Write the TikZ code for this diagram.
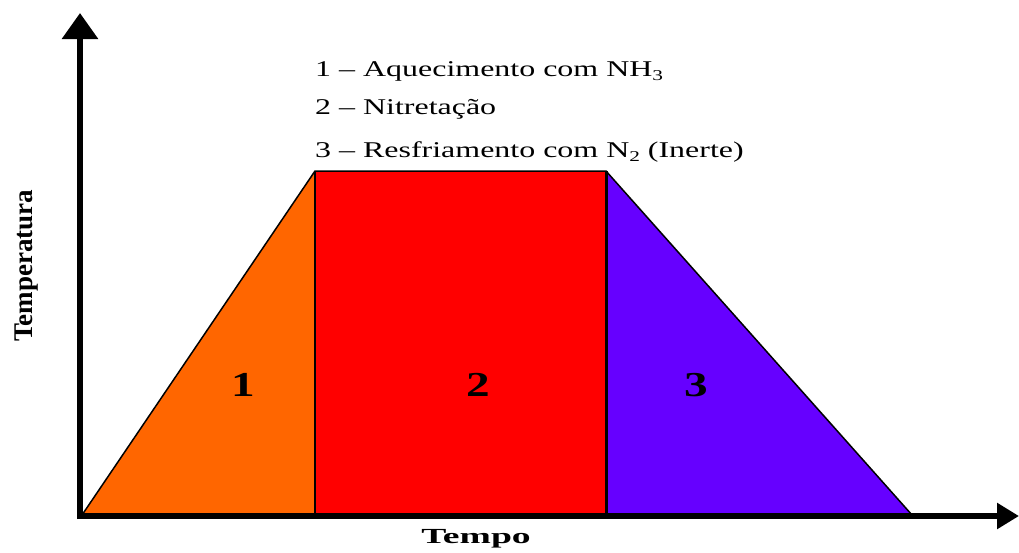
\documentclass[tikz,border=0pt]{standalone}
\usepackage{fontspec}
\setmainfont{Liberation Serif}
\usetikzlibrary{arrows.meta}
\definecolor{orng}{HTML}{FF6600}
\definecolor{rd}{HTML}{FF0000}
\definecolor{prp}{HTML}{6600FF}
\newcommand{\wide}[2]{\scalebox{#1}[1]{#2}}
\newcommand{\sbs}[1]{\raisebox{-4.5pt}{\fontsize{15}{15}\selectfont #1}}
\begin{document}
\begin{tikzpicture}[x=1pt,y=-1pt,
  region/.style={draw=black,line width=1.5pt,line join=miter},
  axisline/.style={line width=6pt},
  bignum/.style={font=\fontsize{35}{35}\selectfont\bfseries,inner sep=0pt},
  legend/.style={anchor=base west,font=\fontsize{22.5}{24}\selectfont,inner sep=0pt},
  axlabel/.style={font=\fontsize{21.5}{21.5}\selectfont\bfseries,inner sep=0pt}]
\useasboundingbox (0,0) rectangle (1019,552);
% corners
\coordinate (A) at (82,515);
\coordinate (B) at (315,171);
\coordinate (C) at (315,515);
\coordinate (D) at (606,171);
\coordinate (E) at (606,515);
\coordinate (F) at (912,515);
% regions
\fill[orng] (A) -- (B) -- (C) -- cycle;
\fill[rd] (B) rectangle (E);
\fill[prp] (D) -- (E) -- (F) -- cycle;
\draw[region] (A) -- (B) -- (D) -- (F);
\draw[region] (B) -- (C);
\draw[line width=3pt] (D) -- (E);
% axes
\coordinate (Ybase) at (80,519);
\coordinate (Ox) at (77,516);
\coordinate (Ytip) at (80,13);
\coordinate (Xtip) at (1019,516);
\draw[axisline,-{Triangle[length=26pt,width=35pt]}] (Ybase) -- (Ytip);
\draw[axisline,-{Triangle[length=22pt,width=25pt]}] (Ox) -- (Xtip);
% numbers
\node[bignum] (n1) at (243,385) {\wide{1.35}{1}};
\node[bignum] (n2) at (478,385) {\wide{1.35}{2}};
\node[bignum] (n3) at (696,385) {\wide{1.35}{3}};
% legend
\node[legend] (l1) at (315,76) {\wide{1.42}{1 -- Aquecimento com NH\sbs{3}}};
\node[legend] (l2) at (315,114) {\wide{1.42}{2 -- Nitretação}};
\node[legend] (l3) at (315,157) {\wide{1.42}{3 -- Resfriamento com N\sbs{2} (Inerte)}};
% axis labels
\node[axlabel,anchor=base] (tempo) at (476,543) {\wide{1.75}{Tempo}};
\node[font=\fontsize{27}{27}\selectfont\bfseries,inner sep=0pt,rotate=90] (temp) at (27,266) {Temperatura};
\end{tikzpicture}
\end{document}
